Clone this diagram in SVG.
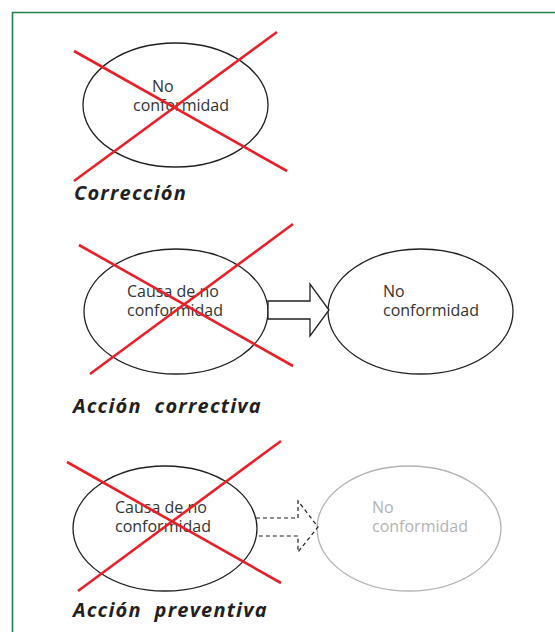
<svg xmlns="http://www.w3.org/2000/svg" width="555" height="632" viewBox="0 0 555 632">
<style>
.ell{fill:none;stroke:#231f20;stroke-width:1.3}
.gell{fill:none;stroke:#b3b3b3;stroke-width:1.3}
.x{stroke:#e8202a;stroke-width:2.6;stroke-linecap:butt}
.t{font-family:"Open Sans","Liberation Sans",sans-serif;font-size:16px;fill:#333333}
.tg{font-family:"Open Sans","Liberation Sans",sans-serif;font-size:16px;fill:#b3b3b3}
.lbl{font-family:"Open Sans","Liberation Sans",sans-serif;font-size:20px;font-weight:bold;font-style:italic;fill:#231f20;letter-spacing:1.2px}
.arr{fill:#ffffff;stroke:#231f20;stroke-width:1.3}
.darr{fill:none;stroke:#231f20;stroke-width:1.2;stroke-dasharray:4,3}
</style>
<rect width="555" height="632" fill="#ffffff"/>
<path d="M12.5,632 V12.5 H555" fill="none" stroke="#1e7f45" stroke-width="1.6"/>

<g id="correccion">
  <ellipse class="ell" cx="175.5" cy="105" rx="92.5" ry="62"/>
  <text class="t" x="152" y="92">No</text>
  <text class="t" x="133" y="111">conformidad</text>
  <line class="x" x1="74" y1="51" x2="287" y2="171"/>
  <line class="x" x1="74" y1="181" x2="277" y2="32"/>
  <text class="lbl" x="74" y="200">Corrección</text>
</g>

<g id="accion-correctiva">
  <g id="causa1">
    <ellipse class="ell" cx="176" cy="311.5" rx="92" ry="62.5"/>
    <text class="t" x="127" y="297">Causa de no</text>
    <text class="t" x="127" y="316">conformidad</text>
    <line class="x" x1="79" y1="245" x2="293" y2="366"/>
    <line class="x" x1="90" y1="374" x2="293" y2="224"/>
  </g>
  <g id="nc1">
    <ellipse class="ell" cx="420.5" cy="311.5" rx="92.5" ry="62.5"/>
    <text class="t" x="383" y="297">No</text>
    <text class="t" x="383" y="316">conformidad</text>
  </g>
  <text class="lbl" x="73" y="413" xml:space="preserve">Acción  correctiva</text>
</g>

<g id="accion-preventiva">
  <g id="causa2">
    <ellipse class="ell" cx="165" cy="528.5" rx="92" ry="62.5"/>
    <text class="t" x="115" y="513">Causa de no</text>
    <text class="t" x="115" y="532">conformidad</text>
    <line class="x" x1="67" y1="462" x2="281" y2="583"/>
    <line class="x" x1="78" y1="591" x2="281" y2="441"/>
  </g>
  <g id="nc2">
    <ellipse class="gell" cx="409" cy="528.5" rx="92" ry="62.5"/>
    <text class="tg" x="372" y="513">No</text>
    <text class="tg" x="372" y="532">conformidad</text>
  </g>
  <text class="lbl" x="73" y="617" xml:space="preserve">Acción  preventiva</text>
</g>

<g id="connectors">
  <path class="arr" d="M268,301 H310 V284 L329,310 L310,336 V319 H268 Z"/>
  <path class="darr" d="M256,518 H298 V501 L318,527 L298,552 V536 H256"/>
</g>
</svg>
